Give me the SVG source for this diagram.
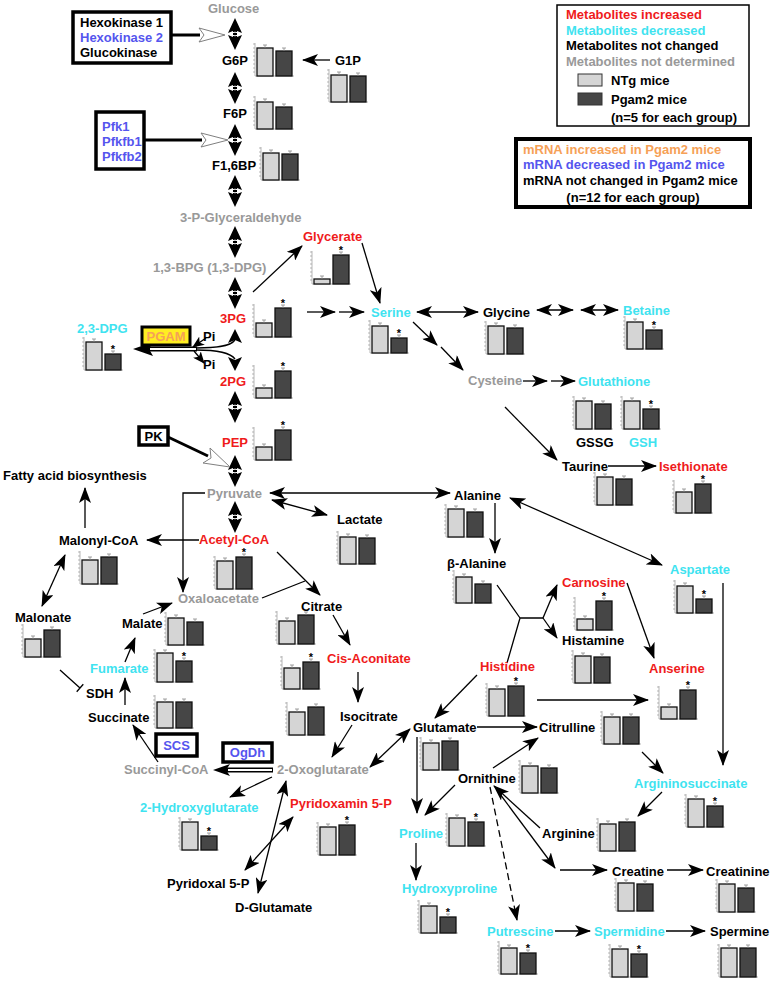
<svg xmlns="http://www.w3.org/2000/svg" width="774" height="981" viewBox="0 0 774 981">
<style>
text{font-family:"Liberation Sans",Arial,Helvetica,sans-serif;font-weight:bold;font-size:13px;fill:#000}
.r{fill:#ef1b1b}.c{fill:#3fe3f0}.g{fill:#999999}.b{fill:#5555ee}.o{fill:#f6a157}
.st{font-size:11px}
.ln{stroke:#000;stroke-width:1.3;fill:none}
.a{marker-end:url(#ah)}
.a2{marker-start:url(#ah);marker-end:url(#ah)}
.as{marker-end:url(#ahs)}
.bx{fill:#fff;stroke:#000;stroke-width:3.5}
.tri{fill:#fff;stroke:#808080;stroke-width:1}
.bl{fill:#d5d5d5;stroke:#111;stroke-width:1.3}
.bd{fill:#464646;stroke:#111;stroke-width:1.3}
.eb{stroke:#888;stroke-width:0.8;fill:none}
</style>
<defs>
<marker id="ah" markerUnits="userSpaceOnUse" viewBox="0 0 16 12" markerWidth="16" markerHeight="12" refX="15" refY="6" orient="auto-start-reverse"><path d="M0,0 L16,6 L0,12 L4,6 Z" fill="#000"/></marker>
<marker id="ahs" markerUnits="userSpaceOnUse" viewBox="0 0 12 10" markerWidth="12" markerHeight="10" refX="11" refY="5" orient="auto"><path d="M0,0 L12,5 L0,10 L3,5 Z" fill="#000"/></marker>
<g id="ax" stroke="#9a9a9a" stroke-width="0.7" fill="none"><path d="M0,0V-33M0,-32h-2M0,-28h-2M0,-24h-2M0,-20h-2M0,-16h-2M0,-12h-2M0,-8h-2M0,-4h-2M0,0H39"/></g>
<g id="dbl"><path d="M0,-16 L7,-1 L2,-3 L2,3 L7,1 L0,16 L-7,1 L-2,3 L-2,-3 L-7,-1 Z" fill="#000"/><ellipse cx="0" cy="0" rx="3" ry="1.8" fill="none" stroke="#fff" stroke-width="1"/></g>
</defs>
<rect width="774" height="981" fill="#fff"/>

<g id="connectors">
<use href="#dbl" transform="translate(235,34)"/>
<use href="#dbl" transform="translate(235,88)"/>
<use href="#dbl" transform="translate(235,140)"/>
<use href="#dbl" transform="translate(235,191)"/>
<use href="#dbl" transform="translate(235,242)"/>
<use href="#dbl" transform="translate(235,293)"/>
<use href="#dbl" transform="translate(235,407)"/>
<use href="#dbl" transform="translate(235,471)"/>
<use href="#dbl" transform="translate(235,517)"/>
<line x1="171" y1="35" x2="200" y2="35" stroke="#000" stroke-width="3"/>
<polygon class="tri" points="199,28 225,35 199,42 204,35"/>
<line x1="144" y1="140" x2="202" y2="140" stroke="#000" stroke-width="3"/>
<polygon class="tri" points="201,133 228,140 201,147 206,140"/>
<line x1="168" y1="437" x2="208" y2="456" stroke="#000" stroke-width="3"/>
<polygon class="tri" points="210,448 230,467 203,463 211,458"/>
<path class="ln" d="M196,348 C214,348 230,347 235,340"/>
<path class="ln" d="M196,350 C214,350 230,352 235,359"/>
<polygon points="235,329 242,343 235,340 228,343" fill="#000"/>
<polygon points="235,371 242,357 235,360 228,357" fill="#000"/>
<line x1="148" y1="349" x2="197" y2="349" stroke="#000" stroke-width="5"/>
<line x1="150" y1="349" x2="196" y2="349" stroke="#fff" stroke-width="1.8"/>
<polygon points="133,349 153,342 149,349 153,356" fill="#000"/>
<line class="ln as" x1="206" y1="338" x2="193" y2="347"/>
<line class="ln as" x1="194" y1="351" x2="204" y2="363"/>
<line x1="225" y1="770" x2="273" y2="770" stroke="#000" stroke-width="5"/>
<line x1="228" y1="770" x2="272" y2="770" stroke="#fff" stroke-width="1.8"/>
<polygon points="213,770 230,764 226,770 230,776" fill="#000"/>
<line class="ln a" x1="330" y1="60" x2="303" y2="60"/>
<line class="ln a" x1="253" y1="292" x2="302" y2="246"/>
<line class="ln a" x1="362" y1="243" x2="380" y2="303"/>
<line class="ln a" x1="307" y1="312" x2="335" y2="312"/>
<line class="ln a" x1="339" y1="312" x2="364" y2="312"/>
<line class="ln a2" x1="417" y1="312" x2="478" y2="312"/>
<line class="ln a2" x1="537" y1="310" x2="573" y2="310"/>
<line class="ln a2" x1="581" y1="310" x2="618" y2="310"/>
<line class="ln a" x1="413" y1="322" x2="437" y2="345"/>
<line class="ln a" x1="441" y1="347" x2="463" y2="370"/>
<line class="ln a" x1="523" y1="381" x2="547" y2="381"/>
<line class="ln a" x1="551" y1="381" x2="575" y2="381"/>
<line class="ln a" x1="505" y1="407" x2="557" y2="460"/>
<line class="ln a" x1="608" y1="466" x2="656" y2="466"/>
<line class="ln a2" x1="270" y1="493" x2="450" y2="493"/>
<line class="ln a2" x1="272" y1="500" x2="327" y2="515"/>
<line class="ln a2" x1="510" y1="498" x2="662" y2="565"/>
<path class="ln a" d="M205,493 H183 V592"/>
<line class="ln a" x1="199" y1="540" x2="147" y2="540"/>
<line class="ln a" x1="85" y1="528" x2="85" y2="488"/>
<line class="ln a2" x1="65" y1="555" x2="42" y2="606"/>
<line class="ln a" x1="277" y1="552" x2="320" y2="595"/>
<line class="ln" x1="262" y1="598" x2="305" y2="581"/>
<line class="ln a" x1="143" y1="614" x2="172" y2="603"/>
<line class="ln a" x1="125" y1="662" x2="135" y2="638"/>
<line class="ln a" x1="125" y1="705" x2="125" y2="678"/>
<path class="ln" d="M60,670 L80,688 M76.7,691.7 L83.3,684.3"/>
<line class="ln a" x1="158" y1="762" x2="133" y2="725"/>
<line class="ln a" x1="495" y1="503" x2="495" y2="553"/>
<line class="ln a" x1="333" y1="615" x2="350" y2="645"/>
<line class="ln a" x1="358" y1="672" x2="358" y2="702"/>
<line class="ln a" x1="352" y1="725" x2="332" y2="757"/>
<line class="ln a" x1="272" y1="777" x2="230" y2="797"/>
<line class="ln a2" x1="370" y1="767" x2="410" y2="729"/>
<line class="ln a2" x1="245" y1="870" x2="293" y2="817"/>
<line class="ln a2" x1="286" y1="781" x2="258" y2="893"/>
<line class="ln a" x1="477" y1="675" x2="435" y2="718"/>
<path class="ln" d="M497,585 L520,618 L507,663 M520,618 H543"/>
<line class="ln a" x1="543" y1="618" x2="557" y2="585"/>
<line class="ln a" x1="543" y1="618" x2="557" y2="638"/>
<line class="ln a" x1="627" y1="583" x2="654" y2="658"/>
<line class="ln a" x1="537" y1="700" x2="648" y2="700"/>
<line class="ln a" x1="723" y1="583" x2="723" y2="765"/>
<line class="ln a" x1="477" y1="727" x2="537" y2="727"/>
<line class="ln a" x1="493" y1="768" x2="538" y2="738"/>
<line class="ln a" x1="642" y1="752" x2="663" y2="773"/>
<line class="ln a" x1="662" y1="792" x2="638" y2="816"/>
<line class="ln a" x1="540" y1="828" x2="494" y2="786"/>
<line class="ln a" x1="497" y1="790" x2="555" y2="868"/>
<line class="ln a" x1="560" y1="870" x2="607" y2="870"/>
<line class="ln a" x1="667" y1="870" x2="703" y2="870"/>
<line class="ln a" x1="417" y1="737" x2="417" y2="813"/>
<line class="ln a" x1="455" y1="785" x2="425" y2="815"/>
<line class="ln a" x1="416" y1="843" x2="416" y2="880"/>
<line class="ln a" x1="490" y1="787" x2="517" y2="920" stroke-dasharray="7,4"/>
<line class="ln a" x1="555" y1="931" x2="590" y2="931"/>
<line class="ln a" x1="666" y1="931" x2="705" y2="931"/>
</g>

<g id="e-hexokinase"><rect class="bx" x="73" y="12" width="98" height="51"/><text x="80" y="27">Hexokinase 1</text><text class="b" x="80" y="42">Hexokinase 2</text><text x="80" y="57">Glucokinase</text></g>
<g id="e-pfk"><rect class="bx" x="96" y="112" width="48" height="57"/><text class="b" x="102" y="131">Pfk1</text><text class="b" x="102" y="146">Pfkfb1</text><text class="b" x="102" y="161">Pfkfb2</text></g>
<g id="e-pgam"><rect x="142" y="327" width="48" height="18" fill="#ffee22" stroke="#000" stroke-width="3"/><text class="o" x="166" y="341" text-anchor="middle">PGAM</text></g>
<g id="e-pk"><rect class="bx" x="139" y="427" width="29" height="18"/><text x="153.5" y="441" text-anchor="middle">PK</text></g>
<g id="e-scs"><rect class="bx" x="156" y="734" width="41" height="22"/><text class="b" x="176.5" y="750" text-anchor="middle">SCS</text></g>
<g id="e-ogdh"><rect class="bx" x="223" y="743" width="49" height="19"/><text class="b" x="247.5" y="757" text-anchor="middle">OgDh</text></g>

<g id="legend-metabolites"><rect x="557" y="5" width="192" height="121" fill="#fff" stroke="#000" stroke-width="1.5"/>
<text class="r" x="566" y="19">Metabolites increased</text>
<text class="c" x="566" y="35">Metabolites decreased</text>
<text x="566" y="50">Metabolites not changed</text>
<text class="g" x="566" y="66">Metabolites not determined</text>
<rect x="578" y="74" width="24" height="12" fill="#d5d5d5" stroke="#333" stroke-width="1"/><text x="611" y="85">NTg mice</text>
<rect x="578" y="93" width="24" height="12" fill="#464646" stroke="#333" stroke-width="1"/><text x="611" y="104">Pgam2 mice</text>
<text x="611" y="122">(n=5 for each group)</text></g>
<g id="legend-mrna"><rect x="516" y="139" width="234" height="68" fill="#fff" stroke="#000" stroke-width="4"/>
<text class="o" x="523" y="154">mRNA increased in Pgam2 mice</text>
<text class="b" x="523" y="169">mRNA decreased in Pgam2 mice</text>
<text x="523" y="185">mRNA not changed in Pgam2 mice</text>
<text x="633" y="202" text-anchor="middle">(n=12 for each group)</text></g>

<g id="n-glucose"><text class="g" x="208" y="13">Glucose</text></g>
<g id="n-g6p"><text x="222" y="65">G6P</text><g transform="translate(255,76)"><use href="#ax"/><rect class="bl" x="2" y="-28" width="16" height="28"/><rect class="bd" x="21" y="-25" width="16" height="25"/><path class="eb" d="M10,-28v-3m-2,0h4M29,-25v-3m-2,0h4"/></g></g>
<g id="n-g1p"><text x="335" y="65">G1P</text><g transform="translate(329,102)"><use href="#ax"/><rect class="bl" x="2" y="-27" width="16" height="27"/><rect class="bd" x="21" y="-26" width="16" height="26"/><path class="eb" d="M10,-27v-3m-2,0h4M29,-26v-3m-2,0h4"/></g></g>
<g id="n-f6p"><text x="223" y="118">F6P</text><g transform="translate(255,129)"><use href="#ax"/><rect class="bl" x="2" y="-27" width="16" height="27"/><rect class="bd" x="21" y="-22" width="16" height="22"/><path class="eb" d="M10,-27v-3m-2,0h4M29,-22v-3m-2,0h4"/></g></g>
<g id="n-f16bp"><text x="212" y="170">F1,6BP</text><g transform="translate(261,180)"><use href="#ax"/><rect class="bl" x="2" y="-27" width="16" height="27"/><rect class="bd" x="21" y="-26" width="16" height="26"/><path class="eb" d="M10,-27v-3m-2,0h4M29,-26v-3m-2,0h4"/></g></g>
<g id="n-gap"><text class="g" x="180" y="222">3-P-Glyceraldehyde</text></g>
<g id="n-bpg"><text class="g" x="153" y="272">1,3-BPG (1,3-DPG)</text></g>
<g id="n-glycerate"><text class="r" x="303" y="241">Glycerate</text><g transform="translate(312,284)"><use href="#ax"/><rect class="bl" x="2" y="-5" width="16" height="5"/><rect class="bd" x="21" y="-29" width="16" height="29"/><path class="eb" d="M10,-5v-3m-2,0h4M29,-29v-3m-2,0h4"/><text class="st" x="29" y="-30" text-anchor="middle">*</text></g></g>
<g id="n-3pg"><text class="r" x="220" y="323">3PG</text><g transform="translate(254,337)"><use href="#ax"/><rect class="bl" x="2" y="-14" width="16" height="14"/><rect class="bd" x="21" y="-29" width="16" height="29"/><path class="eb" d="M10,-14v-3m-2,0h4M29,-29v-3m-2,0h4"/><text class="st" x="29" y="-30" text-anchor="middle">*</text></g></g>
<g id="n-23dpg"><text class="c" x="77" y="333">2,3-DPG</text><g transform="translate(84,370)"><use href="#ax"/><rect class="bl" x="2" y="-28" width="16" height="28"/><rect class="bd" x="21" y="-16" width="16" height="16"/><path class="eb" d="M10,-28v-3m-2,0h4M29,-16v-3m-2,0h4"/><text class="st" x="29" y="-17" text-anchor="middle">*</text></g></g>
<g id="n-pi1"><text x="203" y="341">Pi</text></g>
<g id="n-pi2"><text x="203" y="369">Pi</text></g>
<g id="n-2pg"><text class="r" x="220" y="386">2PG</text><g transform="translate(254,398)"><use href="#ax"/><rect class="bl" x="2" y="-10" width="16" height="10"/><rect class="bd" x="21" y="-27" width="16" height="27"/><path class="eb" d="M10,-10v-3m-2,0h4M29,-27v-3m-2,0h4"/><text class="st" x="29" y="-28" text-anchor="middle">*</text></g></g>
<g id="n-pep"><text class="r" x="222" y="447">PEP</text><g transform="translate(254,460)"><use href="#ax"/><rect class="bl" x="2" y="-13" width="16" height="13"/><rect class="bd" x="21" y="-30" width="16" height="30"/><path class="eb" d="M10,-13v-3m-2,0h4M29,-30v-3m-2,0h4"/><text class="st" x="29" y="-31" text-anchor="middle">*</text></g></g>
<g id="n-serine"><text class="c" x="371" y="317">Serine</text><g transform="translate(370,353)"><use href="#ax"/><rect class="bl" x="2" y="-27" width="16" height="27"/><rect class="bd" x="21" y="-15" width="16" height="15"/><path class="eb" d="M10,-27v-3m-2,0h4M29,-15v-3m-2,0h4"/><text class="st" x="29" y="-16" text-anchor="middle">*</text></g></g>
<g id="n-glycine"><text x="483" y="317">Glycine</text><g transform="translate(486,354)"><use href="#ax"/><rect class="bl" x="2" y="-28" width="16" height="28"/><rect class="bd" x="21" y="-26" width="16" height="26"/><path class="eb" d="M10,-28v-3m-2,0h4M29,-26v-3m-2,0h4"/></g></g>
<g id="n-betaine"><text class="c" x="623" y="315">Betaine</text><g transform="translate(625,349)"><use href="#ax"/><rect class="bl" x="2" y="-27" width="16" height="27"/><rect class="bd" x="21" y="-19" width="16" height="19"/><path class="eb" d="M10,-27v-3m-2,0h4M29,-19v-3m-2,0h4"/><text class="st" x="29" y="-20" text-anchor="middle">*</text></g></g>
<g id="n-cysteine"><text class="g" x="468" y="385">Cysteine</text></g>
<g id="n-glutathione"><text class="c" x="578" y="386">Glutathione</text>
<g transform="translate(574,429)"><use href="#ax"/><rect class="bl" x="2" y="-28" width="16" height="28"/><rect class="bd" x="21" y="-25" width="16" height="25"/><path class="eb" d="M10,-28v-3m-2,0h4M29,-25v-3m-2,0h4"/></g>
<g transform="translate(622,429)"><use href="#ax"/><rect class="bl" x="2" y="-28" width="16" height="28"/><rect class="bd" x="21" y="-20" width="16" height="20"/><path class="eb" d="M10,-28v-3m-2,0h4M29,-20v-3m-2,0h4"/><text class="st" x="29" y="-21" text-anchor="middle">*</text></g>
<text x="576" y="447">GSSG</text><text class="c" x="629" y="447">GSH</text></g>
<g id="n-taurine"><text x="562" y="471">Taurine</text><g transform="translate(595,505)"><use href="#ax"/><rect class="bl" x="2" y="-28" width="16" height="28"/><rect class="bd" x="21" y="-26" width="16" height="26"/><path class="eb" d="M10,-28v-3m-2,0h4M29,-26v-3m-2,0h4"/></g></g>
<g id="n-isethionate"><text class="r" x="659" y="471">Isethionate</text><g transform="translate(674,513)"><use href="#ax"/><rect class="bl" x="2" y="-21" width="16" height="21"/><rect class="bd" x="21" y="-29" width="16" height="29"/><path class="eb" d="M10,-21v-3m-2,0h4M29,-29v-3m-2,0h4"/><text class="st" x="29" y="-30" text-anchor="middle">*</text></g></g>
<g id="n-fatty"><text x="3" y="480">Fatty acid biosynthesis</text></g>
<g id="n-pyruvate"><text class="g" x="207" y="498">Pyruvate</text></g>
<g id="n-lactate"><text x="337" y="524">Lactate</text><g transform="translate(338,564)"><use href="#ax"/><rect class="bl" x="2" y="-27" width="16" height="27"/><rect class="bd" x="21" y="-26" width="16" height="26"/><path class="eb" d="M10,-27v-3m-2,0h4M29,-26v-3m-2,0h4"/></g></g>
<g id="n-alanine"><text x="454" y="500">Alanine</text><g transform="translate(446,537)"><use href="#ax"/><rect class="bl" x="2" y="-28" width="16" height="28"/><rect class="bd" x="21" y="-25" width="16" height="25"/><path class="eb" d="M10,-28v-3m-2,0h4M29,-25v-3m-2,0h4"/></g></g>
<g id="n-balanine"><text x="447" y="568">β-Alanine</text><g transform="translate(454,603)"><use href="#ax"/><rect class="bl" x="2" y="-26" width="16" height="26"/><rect class="bd" x="21" y="-19" width="16" height="19"/><path class="eb" d="M10,-26v-3m-2,0h4M29,-19v-3m-2,0h4"/></g></g>
<g id="n-malonylcoa"><text x="59" y="545">Malonyl-CoA</text><g transform="translate(80,584)"><use href="#ax"/><rect class="bl" x="2" y="-24" width="16" height="24"/><rect class="bd" x="21" y="-27" width="16" height="27"/><path class="eb" d="M10,-24v-3m-2,0h4M29,-27v-3m-2,0h4"/></g></g>
<g id="n-acetylcoa"><text class="r" x="199" y="544">Acetyl-CoA</text><g transform="translate(215,589)"><use href="#ax"/><rect class="bl" x="2" y="-28" width="16" height="28"/><rect class="bd" x="21" y="-32" width="16" height="32"/><path class="eb" d="M10,-28v-3m-2,0h4M29,-32v-3m-2,0h4"/><text class="st" x="29" y="-33" text-anchor="middle">*</text></g></g>
<g id="n-oxaloacetate"><text class="g" x="178" y="603">Oxaloacetate</text></g>
<g id="n-citrate"><text x="301" y="611">Citrate</text><g transform="translate(277,644)"><use href="#ax"/><rect class="bl" x="2" y="-23" width="16" height="23"/><rect class="bd" x="21" y="-29" width="16" height="29"/><path class="eb" d="M10,-23v-3m-2,0h4M29,-29v-3m-2,0h4"/></g></g>
<g id="n-malonate"><text x="15" y="622">Malonate</text><g transform="translate(23,657)"><use href="#ax"/><rect class="bl" x="2" y="-18" width="16" height="18"/><rect class="bd" x="21" y="-27" width="16" height="27"/><path class="eb" d="M10,-18v-3m-2,0h4M29,-27v-3m-2,0h4"/></g></g>
<g id="n-malate"><text x="122" y="628">Malate</text><g transform="translate(166,645)"><use href="#ax"/><rect class="bl" x="2" y="-27" width="16" height="27"/><rect class="bd" x="21" y="-23" width="16" height="23"/><path class="eb" d="M10,-27v-3m-2,0h4M29,-23v-3m-2,0h4"/></g></g>
<g id="n-aspartate"><text class="c" x="670" y="574">Aspartate</text><g transform="translate(675,613)"><use href="#ax"/><rect class="bl" x="2" y="-27" width="16" height="27"/><rect class="bd" x="21" y="-14" width="16" height="14"/><path class="eb" d="M10,-27v-3m-2,0h4M29,-14v-3m-2,0h4"/><text class="st" x="29" y="-15" text-anchor="middle">*</text></g></g>
<g id="n-carnosine"><text class="r" x="562" y="587">Carnosine</text><g transform="translate(575,630)"><use href="#ax"/><rect class="bl" x="2" y="-11" width="16" height="11"/><rect class="bd" x="21" y="-29" width="16" height="29"/><path class="eb" d="M10,-11v-3m-2,0h4M29,-29v-3m-2,0h4"/><text class="st" x="29" y="-30" text-anchor="middle">*</text></g></g>
<g id="n-histamine"><text x="562" y="645">Histamine</text><g transform="translate(573,683)"><use href="#ax"/><rect class="bl" x="2" y="-27" width="16" height="27"/><rect class="bd" x="21" y="-26" width="16" height="26"/><path class="eb" d="M10,-27v-3m-2,0h4M29,-26v-3m-2,0h4"/></g></g>
<g id="n-fumarate"><text class="c" x="90" y="673">Fumarate</text><g transform="translate(155,682)"><use href="#ax"/><rect class="bl" x="2" y="-29" width="16" height="29"/><rect class="bd" x="21" y="-21" width="16" height="21"/><path class="eb" d="M10,-29v-3m-2,0h4M29,-21v-3m-2,0h4"/><text class="st" x="29" y="-22" text-anchor="middle">*</text></g></g>
<g id="n-cisaconitate"><text class="r" x="327" y="663">Cis-Aconitate</text><g transform="translate(282,689)"><use href="#ax"/><rect class="bl" x="2" y="-21" width="16" height="21"/><rect class="bd" x="21" y="-27" width="16" height="27"/><path class="eb" d="M10,-21v-3m-2,0h4M29,-27v-3m-2,0h4"/><text class="st" x="29" y="-28" text-anchor="middle">*</text></g></g>
<g id="n-histidine"><text class="r" x="480" y="671">Histidine</text><g transform="translate(487,716)"><use href="#ax"/><rect class="bl" x="2" y="-27" width="16" height="27"/><rect class="bd" x="21" y="-30" width="16" height="30"/><path class="eb" d="M10,-27v-3m-2,0h4M29,-30v-3m-2,0h4"/><text class="st" x="29" y="-31" text-anchor="middle">*</text></g></g>
<g id="n-anserine"><text class="r" x="649" y="673">Anserine</text><g transform="translate(659,719)"><use href="#ax"/><rect class="bl" x="2" y="-12" width="16" height="12"/><rect class="bd" x="21" y="-29" width="16" height="29"/><path class="eb" d="M10,-12v-3m-2,0h4M29,-29v-3m-2,0h4"/><text class="st" x="29" y="-30" text-anchor="middle">*</text></g></g>
<g id="n-sdh"><text x="86" y="698">SDH</text></g>
<g id="n-succinate"><text x="88" y="722">Succinate</text><g transform="translate(155,728)"><use href="#ax"/><rect class="bl" x="2" y="-26" width="16" height="26"/><rect class="bd" x="21" y="-26" width="16" height="26"/><path class="eb" d="M10,-26v-3m-2,0h4M29,-26v-3m-2,0h4"/></g></g>
<g id="n-isocitrate"><text x="340" y="721">Isocitrate</text><g transform="translate(287,735)"><use href="#ax"/><rect class="bl" x="2" y="-23" width="16" height="23"/><rect class="bd" x="21" y="-28" width="16" height="28"/><path class="eb" d="M10,-23v-3m-2,0h4M29,-28v-3m-2,0h4"/></g></g>
<g id="n-citrulline"><text x="539" y="732">Citrulline</text><g transform="translate(602,744)"><use href="#ax"/><rect class="bl" x="2" y="-27" width="16" height="27"/><rect class="bd" x="21" y="-27" width="16" height="27"/><path class="eb" d="M10,-27v-3m-2,0h4M29,-27v-3m-2,0h4"/></g></g>
<g id="n-glutamate"><text x="413" y="732">Glutamate</text><g transform="translate(421,770)"><use href="#ax"/><rect class="bl" x="2" y="-27" width="16" height="27"/><rect class="bd" x="21" y="-29" width="16" height="29"/><path class="eb" d="M10,-27v-3m-2,0h4M29,-29v-3m-2,0h4"/></g></g>
<g id="n-ornithine"><text x="458" y="783">Ornithine</text><g transform="translate(520,793)"><use href="#ax"/><rect class="bl" x="2" y="-27" width="16" height="27"/><rect class="bd" x="21" y="-25" width="16" height="25"/><path class="eb" d="M10,-27v-3m-2,0h4M29,-25v-3m-2,0h4"/></g></g>
<g id="n-succinylcoa"><text class="g" x="124" y="774">Succinyl-CoA</text></g>
<g id="n-2og"><text class="g" x="277" y="774">2-Oxoglutarate</text></g>
<g id="n-2hg"><text class="c" x="140" y="812">2-Hydroxyglutarate</text><g transform="translate(180,850)"><use href="#ax"/><rect class="bl" x="2" y="-28" width="16" height="28"/><rect class="bd" x="21" y="-14" width="16" height="14"/><path class="eb" d="M10,-28v-3m-2,0h4M29,-14v-3m-2,0h4"/><text class="st" x="29" y="-15" text-anchor="middle">*</text></g></g>
<g id="n-pyridoxamin"><text class="r" x="290" y="808">Pyridoxamin 5-P</text><g transform="translate(318,855)"><use href="#ax"/><rect class="bl" x="2" y="-28" width="16" height="28"/><rect class="bd" x="21" y="-30" width="16" height="30"/><path class="eb" d="M10,-28v-3m-2,0h4M29,-30v-3m-2,0h4"/><text class="st" x="29" y="-31" text-anchor="middle">*</text></g></g>
<g id="n-pyridoxal"><text x="167" y="888">Pyridoxal 5-P</text></g>
<g id="n-dglutamate"><text x="235" y="912">D-Glutamate</text></g>
<g id="n-proline"><text class="c" x="399" y="838">Proline</text><g transform="translate(447,846)"><use href="#ax"/><rect class="bl" x="2" y="-28" width="16" height="28"/><rect class="bd" x="21" y="-24" width="16" height="24"/><path class="eb" d="M10,-28v-3m-2,0h4M29,-24v-3m-2,0h4"/><text class="st" x="29" y="-25" text-anchor="middle">*</text></g></g>
<g id="n-argininosuccinate"><text class="c" x="634" y="788">Argininosuccinate</text><g transform="translate(686,827)"><use href="#ax"/><rect class="bl" x="2" y="-28" width="16" height="28"/><rect class="bd" x="21" y="-21" width="16" height="21"/><path class="eb" d="M10,-28v-3m-2,0h4M29,-21v-3m-2,0h4"/><text class="st" x="29" y="-22" text-anchor="middle">*</text></g></g>
<g id="n-arginine"><text x="542" y="838">Arginine</text><g transform="translate(598,851)"><use href="#ax"/><rect class="bl" x="2" y="-27" width="16" height="27"/><rect class="bd" x="21" y="-29" width="16" height="29"/><path class="eb" d="M10,-27v-3m-2,0h4M29,-29v-3m-2,0h4"/></g></g>
<g id="n-creatine"><text x="612" y="876">Creatine</text><g transform="translate(616,911)"><use href="#ax"/><rect class="bl" x="2" y="-28" width="16" height="28"/><rect class="bd" x="21" y="-27" width="16" height="27"/><path class="eb" d="M10,-28v-3m-2,0h4M29,-27v-3m-2,0h4"/></g></g>
<g id="n-creatinine"><text x="706" y="876">Creatinine</text><g transform="translate(717,912)"><use href="#ax"/><rect class="bl" x="2" y="-28" width="16" height="28"/><rect class="bd" x="21" y="-24" width="16" height="24"/><path class="eb" d="M10,-28v-3m-2,0h4M29,-24v-3m-2,0h4"/></g></g>
<g id="n-hydroxyproline"><text class="c" x="402" y="893">Hydroxyproline</text><g transform="translate(419,933)"><use href="#ax"/><rect class="bl" x="2" y="-27" width="16" height="27"/><rect class="bd" x="21" y="-16" width="16" height="16"/><path class="eb" d="M10,-27v-3m-2,0h4M29,-16v-3m-2,0h4"/><text class="st" x="29" y="-17" text-anchor="middle">*</text></g></g>
<g id="n-putrescine"><text class="c" x="487" y="936">Putrescine</text><g transform="translate(499,974)"><use href="#ax"/><rect class="bl" x="2" y="-26" width="16" height="26"/><rect class="bd" x="21" y="-21" width="16" height="21"/><path class="eb" d="M10,-26v-3m-2,0h4M29,-21v-3m-2,0h4"/><text class="st" x="29" y="-22" text-anchor="middle">*</text></g></g>
<g id="n-spermidine"><text class="c" x="594" y="936">Spermidine</text><g transform="translate(610,977)"><use href="#ax"/><rect class="bl" x="2" y="-28" width="16" height="28"/><rect class="bd" x="21" y="-23" width="16" height="23"/><path class="eb" d="M10,-28v-3m-2,0h4M29,-23v-3m-2,0h4"/><text class="st" x="29" y="-24" text-anchor="middle">*</text></g></g>
<g id="n-spermine"><text x="710" y="936">Spermine</text><g transform="translate(719,977)"><use href="#ax"/><rect class="bl" x="2" y="-29" width="16" height="29"/><rect class="bd" x="21" y="-29" width="16" height="29"/><path class="eb" d="M10,-29v-3m-2,0h4M29,-29v-3m-2,0h4"/></g></g>
</svg>
